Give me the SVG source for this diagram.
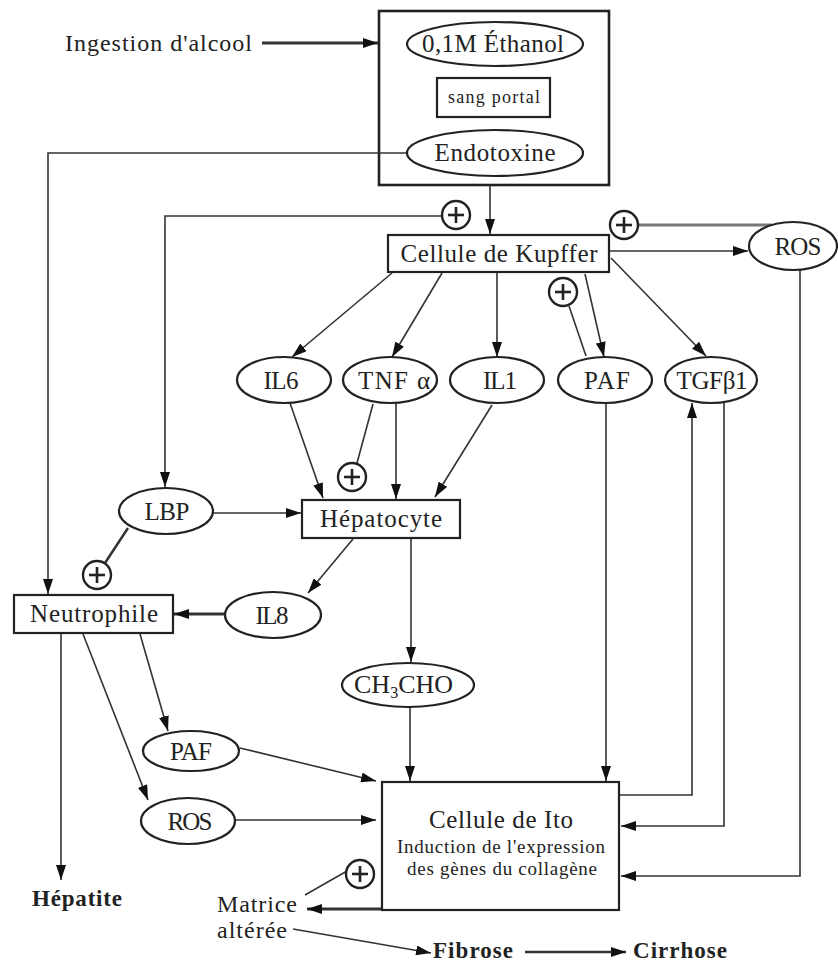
<svg xmlns="http://www.w3.org/2000/svg" width="838" height="964" viewBox="0 0 838 964">
<style>
text{font-family:"Liberation Serif","DejaVu Serif",serif;fill:#222;}
.n{fill:#fff;stroke:#222;stroke-width:2.2;}
.c{fill:none;stroke:#333;stroke-width:1.6;}
.t{fill:none;stroke:#333;stroke-width:3;}
.g{fill:none;stroke:#777;stroke-width:3;}
.p{fill:#fff;stroke:#222;stroke-width:2.4;}
.pl{stroke:#222;stroke-width:2.6;}
.lbl{font-size:25px;text-anchor:middle;}
.b{font-weight:bold;font-size:23px;}
</style>
<defs>
<marker id="a" markerUnits="userSpaceOnUse" markerWidth="16" markerHeight="10" refX="15" refY="5" orient="auto">
<path d="M0,0 L15,5 L0,10 z" fill="#111"/>
</marker>
<g id="plus">
<circle r="14" class="p"/>
<line x1="-8" y1="0" x2="8" y2="0" class="pl"/>
<line x1="0" y1="-8" x2="0" y2="8" class="pl"/>
</g>
</defs>

<g id="sang-portal-box">
<rect x="379" y="11" width="230" height="174" fill="none" stroke="#222" stroke-width="2.6"/>
</g>

<g id="connectors">
<line x1="262" y1="43" x2="378" y2="43" class="t" marker-end="url(#a)"/>
<line x1="490" y1="186" x2="490" y2="234" class="c" marker-end="url(#a)"/>
<polyline points="407,153 48,153 48,594" class="c" marker-end="url(#a)"/>
<polyline points="441,216 165,216 165,487" class="c" marker-end="url(#a)"/>
<line x1="610" y1="251" x2="748" y2="251" class="c" marker-end="url(#a)"/>
<line x1="639" y1="225" x2="772" y2="225" class="g"/>
<polyline points="800,270 800,876 621,876" class="c" marker-end="url(#a)"/>
<line x1="392" y1="273" x2="292" y2="357" class="c" marker-end="url(#a)"/>
<line x1="442" y1="273" x2="392" y2="357" class="c" marker-end="url(#a)"/>
<line x1="497" y1="273" x2="497" y2="357" class="c" marker-end="url(#a)"/>
<line x1="585" y1="274" x2="604" y2="357" class="c" marker-end="url(#a)"/>
<line x1="569" y1="306" x2="586" y2="356" class="c"/>
<line x1="611" y1="258" x2="706" y2="356" class="c" marker-end="url(#a)"/>
<polyline points="620,795 692,795 692,403" class="c" marker-end="url(#a)"/>
<polyline points="724,403 724,826 621,826" class="c" marker-end="url(#a)"/>
<line x1="606" y1="403" x2="606" y2="781" class="c" marker-end="url(#a)"/>
<line x1="290" y1="403" x2="323" y2="498" class="c" marker-end="url(#a)"/>
<line x1="373" y1="404" x2="357" y2="463" class="c"/>
<line x1="396" y1="403" x2="396" y2="499" class="c" marker-end="url(#a)"/>
<line x1="492" y1="405" x2="435" y2="497" class="c" marker-end="url(#a)"/>
<line x1="214" y1="513" x2="301" y2="513" class="c" marker-end="url(#a)"/>
<line x1="128" y1="528" x2="105" y2="563" class="t" style="stroke-width:2.5"/>
<line x1="353" y1="539" x2="308" y2="593" class="c" marker-end="url(#a)"/>
<line x1="225" y1="614" x2="174" y2="614" class="t" marker-end="url(#a)"/>
<line x1="411" y1="539" x2="411" y2="662" class="c" marker-end="url(#a)"/>
<line x1="410" y1="707" x2="410" y2="781" class="c" marker-end="url(#a)"/>
<line x1="61" y1="634" x2="61" y2="880" class="c" marker-end="url(#a)"/>
<line x1="83" y1="634" x2="148" y2="800" class="c" marker-end="url(#a)"/>
<line x1="140" y1="634" x2="168" y2="731" class="c" marker-end="url(#a)"/>
<line x1="240" y1="748" x2="376" y2="781" class="c" marker-end="url(#a)"/>
<line x1="235" y1="820" x2="376" y2="820" class="c" marker-end="url(#a)"/>
<line x1="381" y1="909" x2="307" y2="909" class="t" marker-end="url(#a)"/>
<line x1="305" y1="895" x2="347" y2="871" class="c"/>
<line x1="293" y1="929" x2="431" y2="953" class="c" marker-end="url(#a)"/>
<line x1="525" y1="952" x2="626" y2="952" class="t" style="stroke-width:2.4" marker-end="url(#a)"/>
</g>

<g id="ingestion"><text x="65" y="51" font-size="24" textLength="187">Ingestion d'alcool</text></g>

<g id="ethanol"><ellipse cx="495" cy="44" rx="88" ry="22" class="n"/><text x="493" y="52" class="lbl" textLength="142">0,1M Éthanol</text></g>
<g id="sang-portal"><rect x="437" y="78" width="113" height="39" class="n"/><text x="494" y="103" font-size="18" text-anchor="middle" textLength="92">sang portal</text></g>
<g id="endotoxine"><ellipse cx="495" cy="153" rx="88" ry="23" class="n"/><text x="495" y="161" class="lbl" textLength="121">Endotoxine</text></g>

<g id="kupffer"><rect x="388" y="235" width="221" height="37" class="n"/><text x="499" y="262" class="lbl" textLength="197">Cellule de Kupffer</text></g>
<g id="ros1"><ellipse cx="793" cy="246" rx="44" ry="24" class="n"/><text x="798" y="255" class="lbl" textLength="47">ROS</text></g>

<g id="il6"><ellipse cx="284" cy="380" rx="47" ry="23" class="n"/><text x="281" y="389" class="lbl" textLength="35">IL6</text></g>
<g id="tnf"><ellipse cx="390" cy="380" rx="47" ry="23" class="n"/><text x="394" y="389" class="lbl" textLength="72">TNF α</text></g>
<g id="il1"><ellipse cx="497" cy="380" rx="47" ry="23" class="n"/><text x="500" y="389" class="lbl" textLength="34">IL1</text></g>
<g id="paf1"><ellipse cx="605" cy="380" rx="47" ry="23" class="n"/><text x="607" y="389" class="lbl" textLength="46">PAF</text></g>
<g id="tgf"><ellipse cx="711" cy="380" rx="46" ry="23" class="n"/><text x="712" y="389" class="lbl" textLength="71">TGFβ1</text></g>

<g id="lbp"><ellipse cx="166" cy="511" rx="47" ry="23" class="n"/><text x="167" y="520" class="lbl" textLength="45">LBP</text></g>
<g id="hepatocyte"><rect x="302" y="500" width="158" height="38" class="n"/><text x="381" y="527" class="lbl" textLength="122">Hépatocyte</text></g>
<g id="neutrophile"><rect x="14" y="595" width="159" height="38" class="n"/><text x="94" y="622" class="lbl" textLength="128">Neutrophile</text></g>
<g id="il8"><ellipse cx="273" cy="615" rx="48" ry="23" class="n"/><text x="272" y="624" class="lbl" textLength="33">IL8</text></g>
<g id="ch3cho"><ellipse cx="408" cy="685" rx="66" ry="22" class="n"/><text x="354" y="693" font-size="26">CH<tspan font-size="16" dy="5">3</tspan><tspan dy="-5">CHO</tspan></text></g>

<g id="paf2"><ellipse cx="191" cy="751" rx="48" ry="20" class="n"/><text x="191" y="760" class="lbl" textLength="42">PAF</text></g>
<g id="ros2"><ellipse cx="188" cy="821" rx="47" ry="23" class="n"/><text x="190" y="830" class="lbl" textLength="45">ROS</text></g>

<g id="ito"><rect x="382" y="782" width="237" height="128" class="n"/>
<text x="501" y="828" class="lbl" textLength="144">Cellule de Ito</text>
<text x="501" y="853" font-size="19" text-anchor="middle" textLength="208">Induction de l'expression</text>
<text x="502" y="875" font-size="19" text-anchor="middle" textLength="190">des gènes du collagène</text></g>

<g id="hepatite"><text x="32" y="906" class="b" textLength="90">Hépatite</text></g>
<g id="matrice"><text x="217" y="912" font-size="24" textLength="80">Matrice</text><text x="217" y="938" font-size="24" textLength="70">altérée</text></g>
<g id="fibrose"><text x="433" y="958" class="b" textLength="80">Fibrose</text></g>
<g id="cirrhose"><text x="633" y="958" class="b" textLength="94">Cirrhose</text></g>

<g id="plus-kupffer"><use href="#plus" x="456" y="215"/></g>
<g id="plus-ros"><use href="#plus" x="624" y="225"/></g>
<g id="plus-paf"><use href="#plus" x="563" y="292"/></g>
<g id="plus-tnf"><use href="#plus" x="352" y="477"/></g>
<g id="plus-lbp"><use href="#plus" x="97" y="575"/></g>
<g id="plus-matrice"><use href="#plus" x="360" y="874"/></g>
</svg>
